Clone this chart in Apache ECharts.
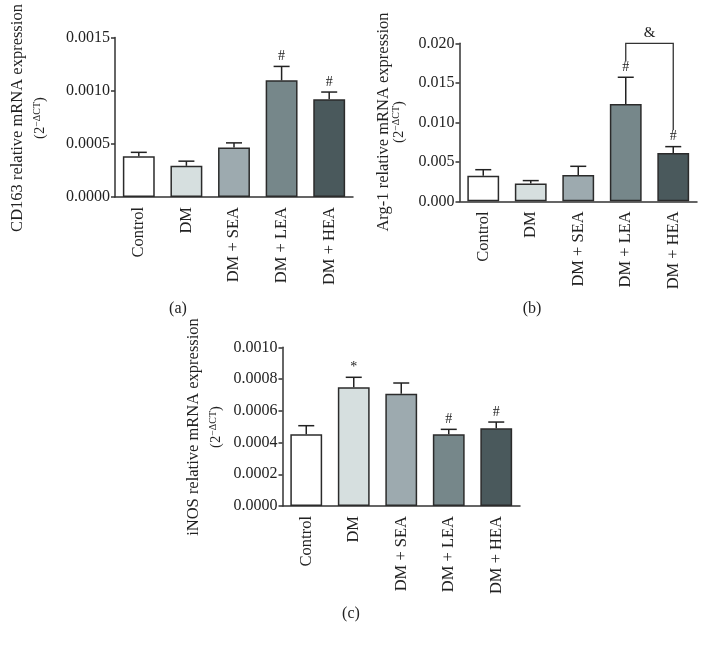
<!DOCTYPE html>
<html>
<head>
<meta charset="utf-8">
<script src="https://cdn.jsdelivr.net/npm/echarts@6/dist/echarts.min.js"></script>
<style>
html,body{margin:0;padding:0;background:#fff;}
#chart{width:707px;height:646px;}
</style>
</head>
<body>
<div id="chart"></div>
<script>
// ---------- data ----------
const categories = ['Control', 'DM', 'DM + SEA', 'DM + LEA', 'DM + HEA'];

const cd163Mean  = [0.000384, 0.000293, 0.000466, 0.001097, 0.000919];
const cd163Upper = [0.000420, 0.000337, 0.000509, 0.001228, 0.000987];
const cd163Marks = ['', '', '', '#', '#'];
const cd163Ticks = [0, 0.0015, 0.0005];   // min, max, interval

const arg1Mean  = [0.00325, 0.00224, 0.00333, 0.01232, 0.00611];
const arg1Upper = [0.00400, 0.00262, 0.00443, 0.01570, 0.00692];
const arg1Marks = ['', '', '', '#', '#'];
const arg1Ticks = [0, 0.020, 0.005];
const arg1BracketIdx = [3, 4];                 // LEA vs HEA
const arg1BracketVals = [0.0200, 0.0177, 0.0090]; // top, left leg end, right leg end
const arg1BracketLabel = '&';

const inosMean  = [0.000452, 0.000748, 0.000708, 0.000452, 0.000490];
const inosUpper = [0.000506, 0.000811, 0.000775, 0.000483, 0.000529];
const inosMarks = ['', '*', '', '#', '#'];
const inosTicks = [0, 0.0010, 0.0002];

const barColors = ['#ffffff', '#d6dfdf', '#9daaaf', '#76878a', '#4a595c'];

// ---------- styling ----------
const FONT = '"Liberation Serif", "DejaVu Serif", serif';
const INK = '#222';
const AXC = '#333';

const chart = echarts.init(document.getElementById('chart'), null, {renderer: 'canvas'});

const grids = [
  {left: 115, top: 37.5, width: 238, height: 159.5},
  {left: 459.5, top: 43.3, width: 237.5, height: 158},
  {left: 282.5, top: 347.3, width: 237.5, height: 158.7}
];

function xAxis(gi) {
  return {
    type: 'category', gridIndex: gi, data: categories,
    axisLine: {lineStyle: {color: AXC, width: 1.5}},
    axisTick: {alignWithLabel: true, length: 5, lineStyle: {color: AXC, width: 1.5}},
    axisLabel: {rotate: 90, interval: 0, margin: 10, color: INK, fontFamily: FONT, fontSize: 16.5}
  };
}
function yAxis(gi, ticks, dec) {
  return {
    type: 'value', gridIndex: gi, min: ticks[0], max: ticks[1], interval: ticks[2],
    axisLine: {show: true, lineStyle: {color: AXC, width: 1.5}},
    axisTick: {show: true, length: 4, lineStyle: {color: AXC, width: 1.5}},
    splitLine: {show: false},
    axisLabel: {margin: 5, color: INK, fontFamily: FONT, fontSize: 16,
      formatter: v => v.toFixed(dec)}
  };
}

function barSeries(gi, mean) {
  return {
    type: 'bar', xAxisIndex: gi, yAxisIndex: gi, barWidth: '67%',
    data: mean.map((v, i) => ({value: v, itemStyle: {color: barColors[i]}})),
    itemStyle: {borderColor: '#2b2b2b', borderWidth: 1.5},
    silent: true, animation: false
  };
}

function errSeries(gi, mean, upper, marks) {
  return {
    type: 'custom', xAxisIndex: gi, yAxisIndex: gi, z: 5, clip: false, silent: true,
    animation: false,
    data: mean.map((v, i) => [i, v, upper[i], marks[i]]),
    renderItem: function (params, api) {
      const i = api.value(0);
      const p0 = api.coord([i, api.value(1)]);
      const p1 = api.coord([i, api.value(2)]);
      const mk = marks[i];
      const children = [
        {type: 'line', shape: {x1: p0[0], y1: p0[1], x2: p1[0], y2: p1[1]},
          style: {stroke: '#222', lineWidth: 1.5}},
        {type: 'line', shape: {x1: p1[0] - 8, y1: p1[1], x2: p1[0] + 8, y2: p1[1]},
          style: {stroke: '#222', lineWidth: 1.5}}
      ];
      if (mk) {
        children.push({type: 'text', x: p1[0], y: p1[1] - 3,
          style: {text: mk, fill: INK, font: '14px ' + FONT, align: 'center', verticalAlign: 'bottom'}});
      }
      return {type: 'group', children: children};
    }
  };
}

const bracketSeries = {
  type: 'custom', xAxisIndex: 1, yAxisIndex: 1, z: 6, clip: false, silent: true, animation: false,
  data: [[arg1BracketIdx[0], arg1BracketIdx[1], arg1BracketVals[0], arg1BracketVals[1], arg1BracketVals[2]]],
  renderItem: function (params, api) {
    const a = api.coord([api.value(0), api.value(2)]);
    const b = api.coord([api.value(1), api.value(2)]);
    const la = api.coord([api.value(0), api.value(3)]);
    const rb = api.coord([api.value(1), api.value(4)]);
    return {type: 'group', children: [
      {type: 'polyline', shape: {points: [[la[0], la[1]], [a[0], a[1]], [b[0], b[1]], [rb[0], rb[1]]]},
        style: {stroke: '#333', lineWidth: 1.3, fill: null}},
      {type: 'text', x: (a[0] + b[0]) / 2, y: a[1] - 3,
        style: {text: arg1BracketLabel, fill: INK, font: '15px ' + FONT, align: 'center', verticalAlign: 'bottom'}}
    ]};
  }
};

function yTitle(x1, x2, y, main) {
  return [
    {type: 'text', x: x1, y: y, rotation: Math.PI / 2,
      style: {text: main, fill: INK, font: '16.5px ' + FONT, align: 'center', verticalAlign: 'middle'}},
    {type: 'text', x: x2, y: y, rotation: Math.PI / 2,
      style: {text: '{a|(2}{s|−ΔCT}{a|)}', align: 'center', verticalAlign: 'middle', fill: INK,
        rich: {
          a: {fontFamily: FONT, fontSize: 14.5, lineHeight: 16, verticalAlign: 'bottom', fill: INK},
          s: {fontFamily: FONT, fontSize: 10, lineHeight: 12, verticalAlign: 'top', padding: [0, 0, 8, 0], fill: INK}
        }}}
  ];
}

const graphics = []
  .concat(yTitle(18, 40, 118, 'CD163 relative mRNA expression'))
  .concat(yTitle(384, 399, 122, 'Arg-1 relative mRNA expression'))
  .concat(yTitle(194, 216, 427, 'iNOS relative mRNA expression'))
  .concat([
    {type: 'text', x: 178, y: 309, style: {text: '(a)', fill: INK, font: '16px ' + FONT, align: 'center', verticalAlign: 'middle'}},
    {type: 'text', x: 532, y: 309, style: {text: '(b)', fill: INK, font: '16px ' + FONT, align: 'center', verticalAlign: 'middle'}},
    {type: 'text', x: 351, y: 614, style: {text: '(c)', fill: INK, font: '16px ' + FONT, align: 'center', verticalAlign: 'middle'}}
  ]);

chart.setOption({
  backgroundColor: '#ffffff',
  animation: false,
  grid: grids,
  xAxis: [xAxis(0), xAxis(1), xAxis(2)],
  yAxis: [yAxis(0, cd163Ticks, 4), yAxis(1, arg1Ticks, 3), yAxis(2, inosTicks, 4)],
  series: [
    barSeries(0, cd163Mean), errSeries(0, cd163Mean, cd163Upper, cd163Marks),
    barSeries(1, arg1Mean), errSeries(1, arg1Mean, arg1Upper, arg1Marks),
    barSeries(2, inosMean), errSeries(2, inosMean, inosUpper, inosMarks),
    bracketSeries
  ],
  graphic: graphics
});
</script>
</body>
</html>
